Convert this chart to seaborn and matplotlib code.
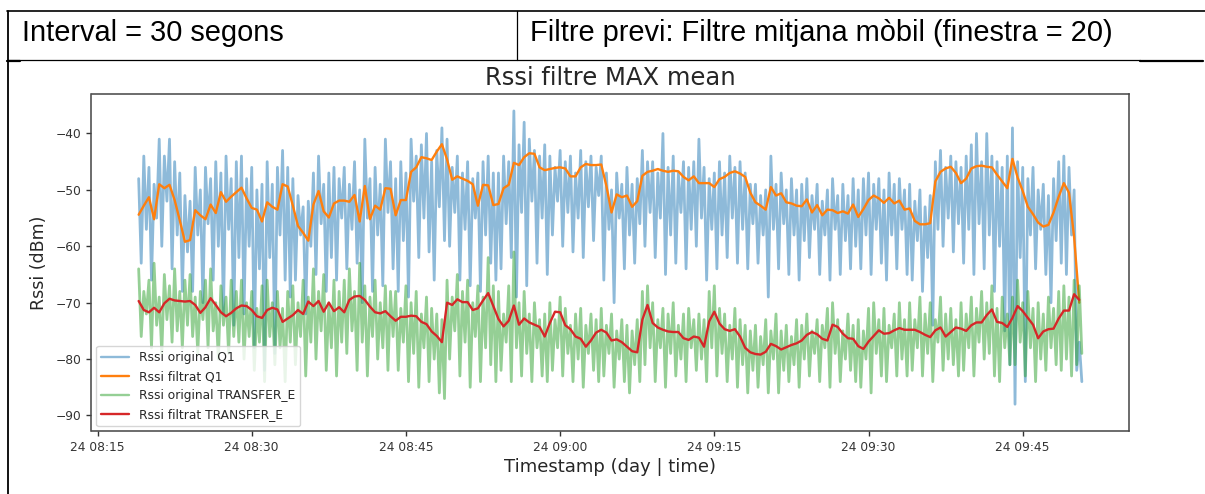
import numpy as np
import pandas as pd
import matplotlib
matplotlib.use("Agg")
import matplotlib.pyplot as plt
import matplotlib.dates as mdates
from matplotlib.lines import Line2D
import seaborn as sns

# ---------------- data ----------------
START = "2021-03-24 08:19:00"      # first filtered sample, 30 s interval

q1_filtered = [
    -54.4, -52.8, -51.3, -55.2, -49.0, -49.7, -49.1, -51.8, -55.4, -59.2,
    -58.9, -53.6, -54.5, -55.2, -52.6, -54.1, -50.4, -52.1, -51.2, -50.4,
    -49.6, -51.5, -53.2, -53.5, -55.6, -52.2, -53.0, -53.5, -49.0, -49.4,
    -52.8, -56.4, -57.6, -59.0, -52.6, -50.2, -53.8, -54.9, -52.4, -51.9,
    -51.9, -52.1, -50.9, -55.6, -49.3, -55.2, -52.8, -53.5, -49.7, -49.8,
    -54.5, -51.8, -51.8, -46.8, -46.0, -44.2, -44.4, -44.7, -43.2, -41.9,
    -44.6, -48.2, -47.6, -48.0, -48.4, -49.0, -52.8, -49.1, -49.2, -52.7,
    -52.5, -49.7, -49.1, -45.2, -45.6, -44.2, -43.5, -43.6, -46.0, -46.5,
    -46.3, -46.1, -46.0, -46.2, -47.6, -47.6, -46.0, -45.4, -45.6, -45.6,
    -45.5, -49.3, -54.0, -50.8, -51.3, -51.0, -53.0, -52.0, -47.5, -46.8,
    -46.6, -46.3, -46.6, -46.8, -46.6, -46.7, -47.7, -48.3, -47.6, -48.8,
    -48.8, -48.8, -49.5, -48.1, -47.7, -47.0, -46.7, -47.1, -47.7, -50.5,
    -52.2, -52.8, -53.5, -49.5, -51.0, -50.6, -52.2, -52.4, -52.8, -52.9,
    -51.7, -54.0, -52.7, -54.5, -53.5, -53.6, -54.1, -53.8, -54.2, -52.6,
    -54.8, -53.4, -51.8, -51.0, -51.5, -52.3, -51.4, -52.4, -51.9, -53.5,
    -53.3, -55.5, -56.1, -56.1, -55.9, -48.5, -46.8, -46.2, -45.9, -47.0,
    -48.8, -48.0, -46.2, -45.8, -45.7, -45.9, -46.0, -47.3, -48.5, -49.7,
    -44.5, -47.8, -50.2, -53.0, -54.3, -55.8, -56.5, -56.2, -54.0, -51.2,
    -48.8, -50.5, -58.4, -70.0,
]

te_filtered = [
    -69.7, -71.3, -71.7, -70.9, -71.7, -70.1, -69.3, -69.6, -69.7, -69.8,
    -69.7, -70.4, -71.8, -70.8, -69.2, -70.4, -71.7, -72.4, -71.8, -71.0,
    -70.5, -70.6, -71.3, -72.4, -72.7, -71.3, -70.9, -71.2, -73.4, -72.8,
    -72.2, -71.3, -72.0, -69.8, -70.6, -69.7, -71.6, -70.0, -71.5, -70.8,
    -71.7, -69.5, -68.9, -68.8, -69.5, -70.7, -71.7, -71.9, -71.5, -72.4,
    -73.2, -72.5, -72.5, -72.3, -72.4, -73.4, -73.8, -75.1, -75.9, -77.0,
    -70.0, -70.4, -69.4, -69.9, -69.9, -71.3, -71.0, -69.6, -68.3, -70.6,
    -72.9, -74.2, -73.2, -70.5, -73.9, -72.8, -73.5, -73.9, -74.3, -76.0,
    -73.6, -71.6, -71.7, -74.0, -74.7, -76.0, -76.4, -77.8, -76.7, -75.3,
    -74.8, -75.3, -76.7, -76.5, -77.0, -77.8, -78.6, -78.8, -73.0, -70.4,
    -73.6, -74.4, -74.8, -75.1, -75.2, -75.2, -76.3, -76.6, -76.0, -76.2,
    -77.8, -73.3, -71.6, -73.7, -74.7, -75.0, -74.7, -76.0, -78.0, -78.8,
    -79.1, -79.2, -78.7, -77.3, -77.7, -78.3, -77.9, -77.5, -77.2, -76.7,
    -75.7, -75.2, -75.6, -76.4, -76.7, -73.9, -74.3, -75.5, -76.3, -76.4,
    -77.7, -78.2, -76.9, -75.9, -74.9, -75.5, -75.4, -74.9, -74.5, -74.8,
    -74.8, -74.8, -75.2, -75.7, -76.1, -74.9, -74.4, -76.0, -75.2, -74.4,
    -74.6, -75.0, -74.0, -73.5, -73.5, -72.2, -71.2, -73.4, -73.6, -74.3,
    -72.7, -70.6, -71.5, -72.7, -73.9, -76.3, -75.1, -74.7, -74.6, -72.8,
    -71.4, -71.4, -68.5, -69.5,
]

# raw samples: a peak at each 30 s mark and a dip 15 s later
q1_orig_peaks = [
    -48, -44, -46, -49, -41, -44, -41, -45, -47, -51,
    -52, -46, -50, -46, -48, -45, -47, -44, -48, -45,
    -44, -48, -46, -50, -49, -45, -49, -46, -43, -46,
    -48, -51, -53, -52, -47, -44, -49, -47, -46, -48,
    -46, -49, -45, -50, -41, -48, -46, -49, -41, -45,
    -48, -45, -47, -41, -44, -42, -40, -45, -43, -39,
    -41, -46, -44, -47, -45, -48, -47, -45, -44, -47,
    -47, -44, -45, -36, -42, -38, -41, -43, -44, -42,
    -44, -46, -43, -45, -44, -47, -43, -45, -44, -46,
    -44, -47, -50, -47, -49, -46, -49, -48, -43, -45,
    -45, -47, -40, -46, -44, -47, -45, -46, -45, -41,
    -46, -48, -47, -45, -47, -44, -46, -45, -47, -49,
    -49, -51, -50, -44, -49, -47, -50, -48, -50, -49,
    -48, -51, -49, -52, -50, -48, -51, -49, -51, -48,
    -50, -48, -47, -49, -48, -50, -47, -49, -48, -50,
    -49, -52, -50, -53, -51, -45, -43, -46, -44, -45,
    -46, -44, -42, -40, -45, -40, -44, -45, -46, -44,
    -39, -45, -46, -48, -46, -50, -49, -51, -48, -45,
    -44, -46, -50, -77,
]
q1_orig_dips = [
    -63, -57, -66, -55, -60, -52, -64, -58, -68, -61,
    -68, -58, -70, -56, -66, -60, -72, -57, -74, -62,
    -72, -60, -78, -64, -82, -62, -79, -58, -66, -69,
    -66, -58, -72, -60, -65, -56, -68, -62, -66, -55,
    -64, -57, -63, -70, -55, -68, -58, -67, -54, -64,
    -68, -59, -69, -52, -62, -55, -61, -66, -53, -59,
    -60, -54, -66, -57, -67, -55, -68, -58, -63, -66,
    -64, -56, -62, -69, -54, -67, -52, -63, -55, -65,
    -58, -52, -60, -54, -61, -55, -62, -53, -59, -51,
    -66, -57, -70, -55, -64, -58, -63, -56, -60, -54,
    -62, -55, -65, -58, -63, -54, -64, -57, -60, -55,
    -66, -57, -64, -58, -62, -55, -63, -57, -64, -56,
    -63, -58, -69, -57, -64, -56, -65, -58, -66, -59,
    -62, -57, -65, -58, -66, -57, -65, -59, -64, -60,
    -64, -58, -65, -57, -63, -66, -58, -64, -57, -65,
    -66, -59, -68, -62, -74, -57, -60, -55, -61, -56,
    -63, -57, -65, -56, -64, -58, -68, -60, -75, -81,
    -88, -62, -84, -58, -64, -57, -65, -70, -59, -63,
    -65, -58, -82, -84,
]

te_orig_peaks = [
    -64, -68, -66, -63, -69, -65, -67, -64, -68, -66,
    -65, -69, -68, -66, -64, -70, -67, -69, -66, -68,
    -66, -70, -68, -71, -67, -66, -70, -68, -71, -68,
    -67, -70, -66, -69, -64, -68, -65, -70, -66, -68,
    -66, -64, -68, -63, -67, -69, -66, -70, -67, -68,
    -68, -71, -67, -70, -68, -72, -69, -71, -72, -73,
    -66, -69, -65, -68, -66, -70, -67, -69, -62, -67,
    -68, -72, -67, -61, -70, -68, -72, -70, -73, -72,
    -70, -73, -69, -71, -74, -72, -71, -74, -72, -73,
    -71, -74, -72, -75, -73, -74, -75, -73, -68, -67,
    -70, -73, -71, -72, -70, -74, -72, -71, -73, -72,
    -73, -68, -67, -71, -72, -74, -71, -73, -74, -75,
    -74, -76, -73, -75, -72, -75, -74, -76, -73, -74,
    -72, -75, -73, -74, -71, -70, -73, -75, -72, -74,
    -73, -75, -71, -70, -73, -71, -74, -72, -70, -73,
    -70, -73, -69, -72, -70, -73, -69, -72, -71, -73,
    -70, -72, -69, -71, -68, -70, -67, -71, -69, -72,
    -69, -66, -70, -68, -71, -70, -72, -69, -71, -68,
    -67, -69, -66, -67,
]
te_orig_dips = [
    -76, -72, -78, -74, -79, -73, -77, -75, -78, -74,
    -76, -79, -73, -78, -75, -80, -74, -79, -76, -77,
    -80, -76, -82, -77, -84, -76, -81, -78, -84, -77,
    -81, -76, -83, -77, -80, -75, -82, -78, -83, -77,
    -79, -75, -82, -77, -83, -76, -80, -78, -82, -76,
    -82, -77, -84, -79, -85, -78, -84, -80, -86, -87,
    -80, -75, -83, -77, -85, -76, -84, -78, -81, -84,
    -82, -77, -84, -78, -83, -79, -84, -78, -83, -84,
    -82, -78, -83, -79, -84, -80, -85, -79, -82, -84,
    -83, -79, -85, -80, -84, -86, -81, -84, -81, -78,
    -84, -78, -85, -79, -83, -80, -84, -78, -82, -80,
    -84, -78, -83, -79, -84, -80, -85, -81, -86, -82,
    -85, -81, -86, -80, -86, -82, -84, -81, -85, -80,
    -83, -79, -84, -78, -85, -79, -84, -80, -82, -84,
    -85, -80, -86, -79, -83, -84, -78, -83, -80, -83,
    -82, -78, -83, -79, -84, -77, -82, -80, -81, -83,
    -82, -78, -83, -77, -80, -79, -83, -84, -78, -81,
    -81, -77, -83, -78, -84, -80, -82, -78, -81, -82,
    -80, -83, -81, -79,
]

header_left = "Interval = 30 segons"
header_right = "Filtre previ: Filtre mitjana mòbil (finestra = 20)"
title = "Rssi filtre MAX mean"
xlabel = "Timestamp (day | time)"
ylabel = "Rssi (dBm)"
labels = ["Rssi original Q1", "Rssi filtrat Q1",
          "Rssi original TRANSFER_E", "Rssi filtrat TRANSFER_E"]

# ---------------- build series ----------------
n = len(q1_filtered)
t_filt = pd.date_range(START, periods=n, freq="30s")
t_orig = np.empty(2 * n, dtype="datetime64[ns]")
t_orig[0::2] = t_filt.values
t_orig[1::2] = (t_filt + pd.Timedelta(seconds=15)).values

q1_orig = np.empty(2 * n)
q1_orig[0::2] = q1_orig_peaks
q1_orig[1::2] = q1_orig_dips
te_orig = np.empty(2 * n)
te_orig[0::2] = te_orig_peaks
te_orig[1::2] = te_orig_dips

# ---------------- figure ----------------
sns.set_theme(style="ticks")
plt.rcParams["font.family"] = ["DejaVu Sans"]

W, H = 1205, 494
fig = plt.figure(figsize=(W / 100, H / 100), dpi=100)
fig.patch.set_facecolor("white")

def fx(x):
    return x / W

def fy(y):
    return 1 - y / H

ax = fig.add_axes([fx(91.5), fy(431), fx(1129) - fx(91.5), fy(94.3) - fy(431)])

blue, orange, green, red = "#1f77b4", "#ff7f0e", "#2ca02c", "#d62728"
sns.lineplot(x=t_orig, y=q1_orig, ax=ax, color=blue, alpha=0.5, lw=2.0,
             label=labels[0], estimator=None)
sns.lineplot(x=t_filt, y=q1_filtered, ax=ax, color=orange, lw=1.7,
             label=labels[1], estimator=None)
sns.lineplot(x=t_orig, y=te_orig, ax=ax, color=green, alpha=0.5, lw=2.0,
             label=labels[2], estimator=None)
sns.lineplot(x=t_filt, y=te_filtered, ax=ax, color=red, lw=1.7,
             label=labels[3], estimator=None)

ax.set_ylim(-92.75, -33.05)
ax.set_yticks([-90, -80, -70, -60, -50, -40])
ax.xaxis.set_major_locator(mdates.MinuteLocator(byminute=[0, 15, 30, 45]))
ax.xaxis.set_major_formatter(mdates.DateFormatter("%d %H:%M"))
ax.margins(x=0.05)

ax.tick_params(labelsize=8.8, length=3.5, width=1, colors="#333333")
for s in ax.spines.values():
    s.set_color("#444444")
    s.set_linewidth(1.1)

ax.set_title(title, fontsize=17.5, color="#262626", pad=7)
ax.set_xlabel(xlabel, fontsize=13, color="#262626", labelpad=3)
ax.set_ylabel(ylabel, fontsize=12.5, color="#262626", labelpad=6)

leg = ax.legend(loc="lower left", fontsize=8.8, handlelength=2.3,
                frameon=True, borderaxespad=0.4)
for line in leg.get_lines():
    line.set_linewidth(1.7)
leg.get_frame().set_edgecolor("#cccccc")

# ---------------- table frame around the chart ----------------
def hline(y, x0, x1, lw):
    fig.add_artist(Line2D([fx(x0), fx(x1)], [fy(y), fy(y)],
                          transform=fig.transFigure, color="black", lw=lw))

def vline(x, y0, y1, lw):
    fig.add_artist(Line2D([fx(x), fx(x)], [fy(y0), fy(y1)],
                          transform=fig.transFigure, color="black", lw=lw))

hline(11.5, 7, W, 1.2)
hline(60.5, 7, 1140, 0.9)
hline(61.5, 7, 20, 1.6)
hline(61.5, 1140, 1203, 1.6)
vline(7.8, 11, H, 1.3)
vline(517, 11, 60.5, 0.9)

fig.text(fx(22), fy(41), header_left, fontsize=20.9, family="Liberation Sans",
         color="black", va="baseline", ha="left")
fig.text(fx(530), fy(41), header_right, fontsize=20.9, family="Liberation Sans",
         color="black", va="baseline", ha="left")

fig.savefig("out.png", dpi=100, facecolor="white")
